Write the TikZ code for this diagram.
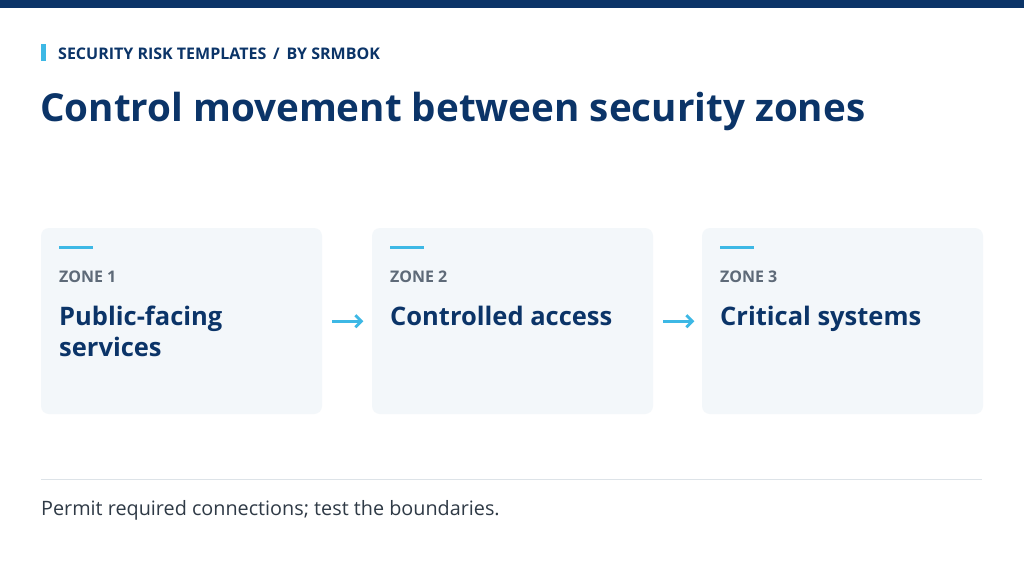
\documentclass[tikz,border=0pt]{standalone}
\usepackage{fontspec}
\setmainfont{Open Sans}
\usetikzlibrary{arrows.meta}
\definecolor{navy}{HTML}{0B3468}
\definecolor{accent}{HTML}{3DB8E5}
\definecolor{cardbg}{HTML}{F3F7FA}
\definecolor{zonegray}{HTML}{5E6A78}
\definecolor{rulegray}{HTML}{DDE3E8}
\definecolor{foot}{HTML}{2F3A46}
\tikzset{
  card/.style={fill=cardbg, rounded corners=8pt, draw=none},
  zlabel/.style={anchor=base west, inner sep=0pt, text=zonegray, font=\fontsize{16}{19}\selectfont\bfseries},
  ztitle/.style={anchor=north west, inner sep=0pt, text=navy, align=left, font=\fontsize{25.5}{31}\selectfont\bfseries},
  flow/.style={draw=accent, line width=2.8pt, -{Straight Barb[length=6pt,width=12pt,line width=2.8pt]}},
  tick/.style={draw=accent, line width=3pt},
}
\begin{document}
\begin{tikzpicture}[x=1pt,y=-1pt]
\useasboundingbox (0,0) rectangle (1024,576);
\fill[white] (0,0) rectangle (1024,576);
\fill[navy] (0,0) rectangle (1024,8);
\fill[accent] (41,44) rectangle (45.5,61);
\node[anchor=base west, inner sep=0pt, text=navy, font=\fontsize{16}{19}\selectfont\bfseries] (hdr) at (58,59) {SECURITY RISK TEMPLATES \,/\, BY SRMBOK};
\node[anchor=base west, inner sep=0pt, text=navy, font=\fontsize{38.6}{46}\selectfont\bfseries] (title) at (40,121) {Control movement between security zones};

\foreach \i/\x/\z/\t in {1/41/ZONE 1/{Public-facing\\services}, 2/372/ZONE 2/{Controlled access}, 3/702/ZONE 3/{Critical systems}} {
  \path[card] (\x,228) rectangle ++(281,186);
  \node[minimum width=281pt, minimum height=186pt, inner sep=0pt, anchor=north west] (card\i) at (\x,228) {};
  \draw[tick] (\x+18,247.5) -- ++(34,0);
  \node[zlabel] (z\i) at (\x+18,282) {\z};
  \node[ztitle] (t\i) at (\x+18,305.6) {\t};
}
\draw[flow] (card1.east) ++(10,-0) coordinate (a1s) -- ++(31,0) coordinate (a1e);
\draw[flow] (card2.east) ++(10,-0) coordinate (a2s) -- ++(31,0) coordinate (a2e);

\draw[rulegray, line width=1pt] (41,479) -- (982,479);
\node[anchor=base west, inner sep=0pt, text=foot, font=\fontsize{19.8}{24}\selectfont] (footer) at (41,515) {Permit required connections; test the boundaries.};
\end{tikzpicture}
\end{document}
